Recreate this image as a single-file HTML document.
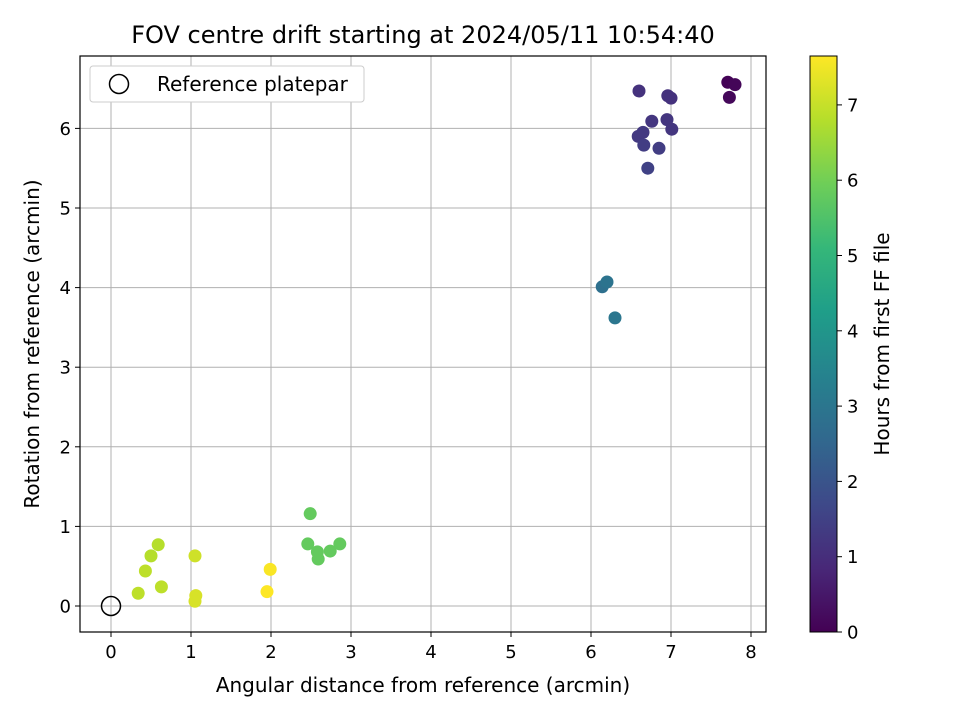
<!DOCTYPE html>
<html><head><meta charset="utf-8"><style>
body{margin:0;background:#fff;font-family:"Liberation Sans","DejaVu Sans",sans-serif}
</style></head><body>
<svg id="chart" width="960" height="720" xmlns="http://www.w3.org/2000/svg" font-family="DejaVu Sans, Liberation Sans, sans-serif">
<defs><linearGradient id="vir" x1="0" y1="1" x2="0" y2="0">
<stop offset="0" stop-color="#440154"/><stop offset="0.111" stop-color="#482878"/><stop offset="0.222" stop-color="#3e4989"/><stop offset="0.333" stop-color="#31688e"/><stop offset="0.444" stop-color="#26828e"/><stop offset="0.556" stop-color="#1f9e89"/><stop offset="0.667" stop-color="#35b779"/><stop offset="0.778" stop-color="#6ece58"/><stop offset="0.889" stop-color="#b5de2b"/><stop offset="1" stop-color="#fde725"/></linearGradient></defs>
<text x="423" y="43" font-size="24" text-anchor="middle">FOV centre drift starting at 2024/05/11 10:54:40</text>
<g id="grid"></g><g id="ticks"></g><g id="pts"></g>
<rect x="80" y="56" width="686" height="576" fill="none" stroke="#000" stroke-width="1.2"/>
<text x="423" y="692" font-size="20" text-anchor="middle">Angular distance from reference (arcmin)</text>
<text transform="translate(39,344) rotate(-90)" font-size="20" text-anchor="middle">Rotation from reference (arcmin)</text>
<g>
<rect x="90" y="66" width="274" height="36" rx="3" fill="#fff" stroke="#ccc"/>
<circle cx="119" cy="84" r="9.5" fill="none" stroke="#000" stroke-width="1.5"/>
<text x="157" y="91" font-size="20">Reference platepar</text></g>
<rect x="810" y="56" width="27" height="576" fill="url(#vir)" stroke="#000" stroke-width="1"/>
<g id="cticks"></g>
<text transform="translate(889,344) rotate(-90)" font-size="20" text-anchor="middle">Hours from first FF file</text>
</svg>
<script>
const xs=[7.71,7.80,7.73,6.60,6.96,7.00,6.76,6.95,7.01,6.59,6.65,6.66,6.85,6.71,6.14,6.20,6.30,2.49,2.46,2.58,2.59,2.74,2.86,0.59,0.50,0.43,0.34,0.63,1.05,1.06,1.05,1.99,1.95];
const ys=[6.58,6.55,6.39,6.47,6.41,6.38,6.09,6.11,5.99,5.90,5.95,5.79,5.75,5.50,4.01,4.07,3.62,1.16,0.78,0.68,0.59,0.69,0.78,0.77,0.63,0.44,0.16,0.24,0.63,0.13,0.06,0.46,0.18];
const hrs=[0.05,0.1,0.15,1.1,1.1,1.1,1.2,1.2,1.2,1.3,1.3,1.4,1.4,1.5,2.8,2.9,3.0,5.8,5.8,5.8,5.8,5.8,5.8,6.8,6.8,6.9,6.9,6.9,7.1,7.2,7.2,7.6,7.7];
const xTicks=[0,1,2,3,4,5,6,7,8], yTicks=[0,1,2,3,4,5,6], cTicks=[0,1,2,3,4,5,6,7];
const X=v=>111+80*v, Y=v=>606-79.6*v, C=v=>632-75.3*v;
const stops=[[68,1,84],[72,40,120],[62,73,137],[49,104,142],[38,130,142],[31,158,137],[53,183,121],[110,206,88],[181,222,43],[253,231,37]];
function vir(t){t=Math.max(0,Math.min(1,t))*(stops.length-1);const i=Math.min(Math.floor(t),stops.length-2),f=t-i;return 'rgb('+stops[i].map((c,k)=>Math.round(c+(stops[i+1][k]-c)*f)).join(',')+')';}
const NS='http://www.w3.org/2000/svg';
function mk(tag,at,parent){const e=document.createElementNS(NS,tag);for(const k in at)e.setAttribute(k,at[k]);document.getElementById(parent).appendChild(e);return e;}
xTicks.forEach(t=>{const x=X(t);
 let g=mk('line',{x1:x,x2:x,y1:56,y2:632,stroke:'#b0b0b0','stroke-width':1},'grid');
 
 
 mk('line',{x1:x,x2:x,y1:632,y2:637,stroke:'#000'},'ticks');
 let l=mk('text',{x:x,y:658,'font-size':18,'text-anchor':'middle'},'ticks');l.textContent=t;
 
 });
yTicks.forEach(t=>{const y=Y(t);
 let g=mk('line',{x1:80,x2:766,y1:y,y2:y,stroke:'#b0b0b0','stroke-width':1},'grid');
 
 
 mk('line',{x1:75,x2:80,y1:y,y2:y,stroke:'#000'},'ticks');
 let l=mk('text',{x:71,y:y+6.5,'font-size':18,'text-anchor':'end'},'ticks');l.textContent=t;
 
 });
cTicks.forEach(t=>{const y=C(t);
 mk('line',{x1:837,x2:842,y1:y,y2:y,stroke:'#000'},'cticks');
 let l=mk('text',{x:847,y:y+6.5,'font-size':18},'cticks');l.textContent=t;
 
 });
xs.forEach((v,i)=>{const c=mk('circle',{cx:X(v),cy:Y(ys[i]),r:6.5,fill:vir(hrs[i]/7.65)},'pts');
 
 });
const r=mk('circle',{cx:X(0),cy:Y(0),r:9.5,fill:'none',stroke:'#000','stroke-width':1.5},'pts');


</script>
</body></html>
